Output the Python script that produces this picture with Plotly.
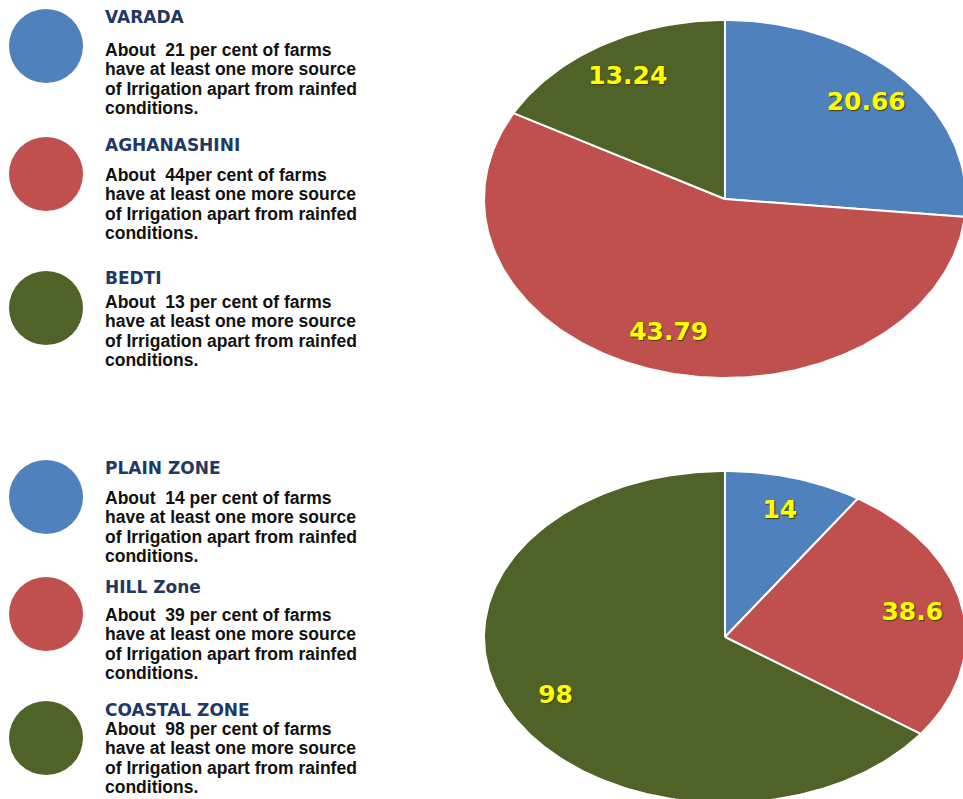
import numpy as np
import plotly.graph_objects as go

# data
basin_names = ["VARADA", "AGHANASHINI", "BEDTI"]
basin_share = [20.66, 43.79, 13.24]
basin_notes = [
    "About  21 per cent of farms|have at least one more source|of Irrigation apart from rainfed|conditions.",
    "About  44per cent of farms|have at least one more source|of Irrigation apart from rainfed|conditions.",
    "About  13 per cent of farms|have at least one more source|of Irrigation apart from rainfed|conditions.",
]

zone_names = ["PLAIN ZONE", "HILL Zone", "COASTAL ZONE"]
zone_share = [14, 38.6, 98]
zone_notes = [
    "About  14 per cent of farms|have at least one more source|of Irrigation apart from rainfed|conditions.",
    "About  39 per cent of farms|have at least one more source|of Irrigation apart from rainfed|conditions.",
    "About  98 per cent of farms|have at least one more source|of Irrigation apart from rainfed|conditions.",
]

slice_colors = ["#4F81BD", "#C0504D", "#4F6228"]

W, H = 963, 799


def px_x(x):
    return x / W


def px_y(y):
    return 1 - y / H


def add_pie(fig, values, axis_id, label_r=0.79):
    total = float(sum(values))
    start = 0.0
    xa = "x" if axis_id == 1 else f"x{axis_id}"
    ya = "y" if axis_id == 1 else f"y{axis_id}"
    lx, ly, lt = [], [], []
    for val, color in zip(values, slice_colors):
        sweep = val / total * 2 * np.pi
        th = np.linspace(start, start + sweep, max(int(np.degrees(sweep)), 2) + 1)
        xs = np.concatenate([[0], np.sin(th), [0]])
        ys = np.concatenate([[0], np.cos(th), [0]])
        fig.add_trace(go.Scatter(
            x=xs, y=ys, mode="lines", fill="toself", fillcolor=color,
            line=dict(color="white", width=2), hoverinfo="skip",
            xaxis=xa, yaxis=ya, showlegend=False,
        ))
        mid = start + sweep / 2
        lx.append(label_r * np.sin(mid))
        ly.append(label_r * np.cos(mid))
        lt.append(f"{val:g}")
        start += sweep
    fig.add_trace(go.Scatter(
        x=lx, y=ly, text=lt, mode="text", xaxis=xa, yaxis=ya,
        textfont=dict(family="DejaVu Sans", size=25, color="#FFFF00",
                      weight="bold", shadow="1px 1px 1px #3a3a00"),
        hoverinfo="skip", showlegend=False,
    ))


fig = go.Figure()
add_pie(fig, basin_share, 1)
add_pie(fig, zone_share, 2)

# pie centre (725, y), radii 241 x 179 (top) and 241 x 166 (bottom), in pixels
xr = [-1, (W - 725) / 241]
fig.update_layout(
    xaxis=dict(domain=[px_x(484), 1], range=xr, visible=False),
    yaxis=dict(domain=[px_y(378), px_y(20)], range=[-1, 1], visible=False),
    xaxis2=dict(domain=[px_x(484), 1], range=xr, visible=False),
    yaxis2=dict(domain=[0, px_y(471)], range=[-(H - 637) / 166, 1], visible=False),
)

legend_blocks = [
    (basin_names, basin_notes, [46, 174, 308], [17, 145, 278], [50, 175, 302]),
    (zone_names, zone_notes, [497, 614, 738], [468, 587, 710], [498, 615, 729]),
]

for names, notes, dot_y, title_y, note_y in legend_blocks:
    for i in range(3):
        fig.add_shape(
            type="circle", xref="paper", yref="paper",
            x0=px_x(9), x1=px_x(83), y0=px_y(dot_y[i] + 37), y1=px_y(dot_y[i] - 37),
            fillcolor=slice_colors[i], line=dict(width=0),
        )
        fig.add_annotation(
            text=names[i], xref="paper", yref="paper",
            x=px_x(103), y=px_y(title_y[i]), xanchor="left", yanchor="middle",
            showarrow=False,
            font=dict(family="DejaVu Sans", size=17, color="#1F3864", weight="bold"),
        )
        for k, line in enumerate(notes[i].split("|")):
            fig.add_annotation(
                text=line, xref="paper", yref="paper", align="left",
                x=px_x(103), y=px_y(note_y[i] + 19.3 * k), xanchor="left", yanchor="middle",
                showarrow=False,
                font=dict(family="Liberation Sans", size=17.5, color="#111111", weight="bold"),
            )

fig.update_layout(
    width=W, height=H,
    margin=dict(l=0, r=0, t=0, b=0),
    paper_bgcolor="white", plot_bgcolor="white",
    showlegend=False,
)

# drop the browser's default body margin so the figure fills the window
fig.write_html(
    "out.html",
    config={"displayModeBar": False},
    post_script="document.body.style.margin='0';document.body.style.overflow='hidden';",
)
